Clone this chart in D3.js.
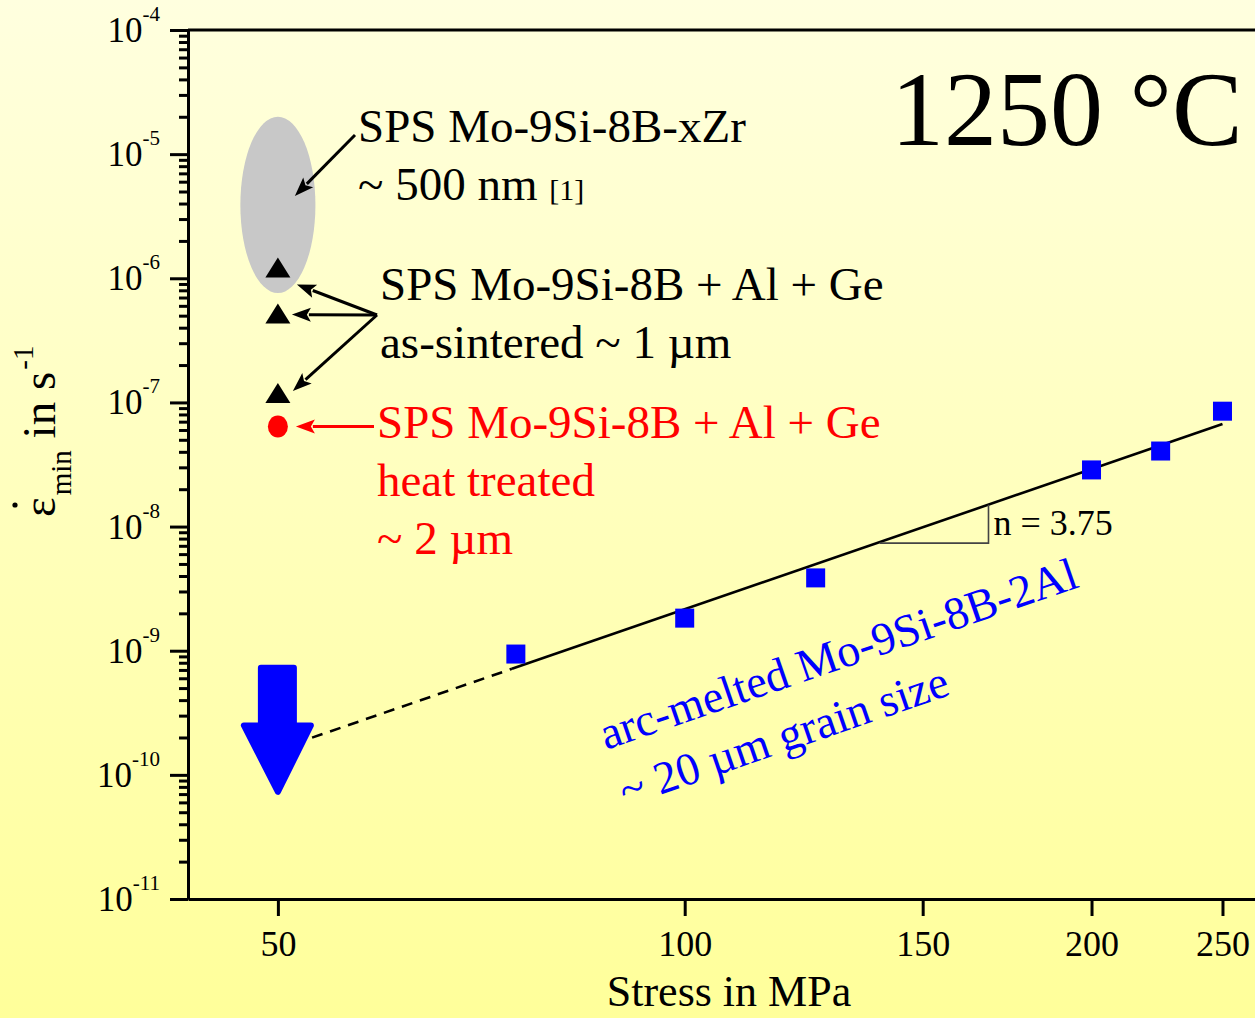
<!DOCTYPE html>
<html>
<head>
<meta charset="utf-8">
<script src="https://cdnjs.cloudflare.com/ajax/libs/d3/7.8.5/d3.min.js"></script>
<style>
  html, body { margin: 0; padding: 0; overflow: hidden; }
  svg { display: block; }
  text { font-family: "Liberation Serif", "Times New Roman", serif; }
</style>
</head>
<body>
<svg id="chart" width="1255" height="1018"></svg>
<script>
// Minimum creep rate vs. applied stress at 1250 °C (log-log)

// axis ticks
const stressTicks = [50, 100, 150, 200, 250];
const rateDecades = [-11, -10, -9, -8, -7, -6, -5, -4];

// arc-melted Mo-9Si-8B-2Al (~20 µm)
const arcMeltedStress = [75, 100, 125, 200, 225, 250];
const arcMeltedRate = [9.4e-10, 1.83e-9, 3.86e-9, 2.86e-8, 4.06e-8, 8.5e-8];

// SPS Mo-9Si-8B + Al + Ge, as-sintered (~1 µm)
const asSinteredStress = [50, 50, 50];
const asSinteredRate = [1.2e-6, 5.1e-7, 1.17e-7];

// SPS Mo-9Si-8B + Al + Ge, heat treated (~2 µm)
const heatTreatedStress = [50];
const heatTreatedRate = [6.4e-8];

// SPS Mo-9Si-8B-xZr (~500 nm) range at 50 MPa
const fineGrainStress = [46.9, 50, 53.3];
const fineGrainRate = [7.6e-7, 2.0e-5];

// power-law fit  rate = A * stress^n
const fitExponent = 3.75;
const fitRefStress = 250;
const fitRefRate = 6.7e-8;
const fitSolidStress = [74.5, 250];
const fitDashedStress = [53, 74.5];
const slopeStress = [139.4, 167.8];

// extrapolated upper bound at 50 MPa
const boundStress = 50;
const boundRate = [7.7e-10, 2.5e-10, 6.9e-11]; // top, neck, tip

const svg = d3.select("#chart");
const W = 1255, H = 1018;

// background gradient
const defs = svg.append("defs");
const grad = defs.append("linearGradient").attr("id", "bg")
  .attr("x1", 0).attr("y1", 0).attr("x2", 0).attr("y2", 1);
grad.append("stop").attr("offset", "0%").attr("stop-color", "#FFFFDF");
grad.append("stop").attr("offset", "100%").attr("stop-color", "#FFFF9A");
svg.append("rect").attr("width", W).attr("height", H).attr("fill", "url(#bg)");

const x = d3.scaleLog().domain([42.9, 280]).range([188, 1289]);
const y = d3.scaleLog().domain([1e-11, 1e-4]).range([899, 30]);

const fit = s => fitRefRate * Math.pow(s / fitRefStress, fitExponent);

// ---- axes ----
const majors = rateDecades.map(e => Math.pow(10, e));
const minors = [];
rateDecades.slice(0, -1).forEach(e => {
  for (let k = 2; k <= 9; k++) minors.push(k * Math.pow(10, e));
});

const yMinor = svg.append("g").attr("transform", "translate(188,0)")
  .call(d3.axisLeft(y).tickValues(minors).tickSize(9).tickSizeOuter(0).tickFormat(""));
const yMajor = svg.append("g").attr("transform", "translate(188,0)")
  .call(d3.axisLeft(y).tickValues(majors).tickSize(18).tickSizeOuter(0).tickFormat(""));
[yMinor, yMajor].forEach(g => {
  g.selectAll("line").attr("stroke", "#000").attr("stroke-width", 3);
  g.select(".domain").attr("stroke", "#000").attr("stroke-width", 3);
});

// decade labels 10^k
const yLab = svg.append("g");
rateDecades.forEach(e => {
  const t = yLab.append("text")
    .attr("x", 160).attr("y", y(Math.pow(10, e)) + 12)
    .attr("text-anchor", "end").attr("font-size", 35).attr("fill", "#000");
  t.append("tspan").text("10");
  t.append("tspan").attr("font-size", 21).attr("dy", -21).text(String(e));
});

const xAxis = svg.append("g").attr("transform", "translate(0,899)")
  .call(d3.axisBottom(x).tickValues(stressTicks).tickSize(17).tickSizeOuter(0).tickFormat(d3.format("d")));
xAxis.selectAll("line").attr("stroke", "#000").attr("stroke-width", 3);
xAxis.select(".domain").attr("stroke", "#000").attr("stroke-width", 3);
xAxis.selectAll("text").attr("font-size", 36).attr("fill", "#000")
  .attr("font-family", "Liberation Serif, serif").attr("y", 57).attr("dy", 0);

// top frame line
svg.append("line").attr("x1", x.range()[0]).attr("x2", x.range()[1])
  .attr("y1", y.range()[1]).attr("y2", y.range()[1])
  .attr("stroke", "#000").attr("stroke-width", 3);

// axis titles
svg.append("text").attr("x", 729).attr("y", 1006).attr("text-anchor", "middle")
  .attr("font-size", 44).attr("fill", "#000").text("Stress in MPa");

const yt = svg.append("g").attr("transform", "translate(55,517) rotate(-90)");
const ytt = yt.append("text").attr("x", 0).attr("y", 0).attr("font-size", 47).attr("fill", "#000");
ytt.append("tspan").text("ε");
ytt.append("tspan").attr("font-size", 29).attr("dy", 16).attr("dx", 2).text("min");
ytt.append("tspan").attr("dy", -16).text(" in s");
ytt.append("tspan").attr("font-size", 29).attr("dy", -22).attr("dx", 2).text("-1");
yt.append("circle").attr("cx", 12).attr("cy", -40).attr("r", 2.6).attr("fill", "#000");

// ---- annotations & data ----
// fine-grain range ellipse
const ecx = x(fineGrainStress[1]);
const ey0 = y(fineGrainRate[1]), ey1 = y(fineGrainRate[0]);
svg.append("ellipse")
  .attr("cx", ecx).attr("cy", (ey0 + ey1) / 2)
  .attr("rx", (x(fineGrainStress[2]) - x(fineGrainStress[0])) / 2)
  .attr("ry", (ey1 - ey0) / 2)
  .attr("fill", "#C8C8C8");

// power-law fit
const line = d3.line().x(d => x(d)).y(d => y(fit(d)));
svg.append("path").attr("d", line(fitDashedStress)).attr("fill", "none")
  .attr("stroke", "#000").attr("stroke-width", 2.6).attr("stroke-dasharray", "11,8");
svg.append("path").attr("d", line(fitSolidStress)).attr("fill", "none")
  .attr("stroke", "#000").attr("stroke-width", 2.6);

// slope triangle
const sx0 = x(slopeStress[0]), sx1 = x(slopeStress[1]);
const sy0 = y(fit(slopeStress[0])), sy1 = y(fit(slopeStress[1]));
svg.append("path")
  .attr("d", `M${sx0},${sy0 + 1}L${sx1},${sy0 + 1}L${sx1},${sy1}`)
  .attr("fill", "none").attr("stroke", "#444").attr("stroke-width", 1.6);
svg.append("text").attr("x", sx1 + 5).attr("y", sy0 - 7).attr("font-size", 36)
  .attr("fill", "#000").text("n = 3.75");

// extrapolated bound arrow
const bx = x(boundStress);
const bTop = y(boundRate[0]), bNeck = y(boundRate[1]), bTip = y(boundRate[2]);
svg.append("path")
  .attr("d", `M${bx - 17},${bTop + 3}L${bx + 16},${bTop + 3}L${bx + 16},${bNeck}L${bx + 33},${bNeck}` +
             `L${bx},${bTip - 3}L${bx - 34},${bNeck}L${bx - 17},${bNeck}Z`)
  .attr("fill", "#0000FF").attr("stroke", "#0000FF").attr("stroke-width", 6)
  .attr("stroke-linejoin", "round");

// arc-melted squares
svg.append("g").selectAll("rect").data(arcMeltedStress).join("rect")
  .attr("x", (d) => x(d) - 9.5).attr("y", (d, i) => y(arcMeltedRate[i]) - 9.5)
  .attr("width", 19).attr("height", 19).attr("fill", "#0000FF");

// as-sintered triangles
const tri = (cx, cy) => `M${cx},${cy - 11}L${cx + 12.5},${cy + 9}L${cx - 12.5},${cy + 9}Z`;
svg.append("g").selectAll("path").data(asSinteredStress).join("path")
  .attr("d", (d, i) => tri(x(d), y(asSinteredRate[i]))).attr("fill", "#000");

// heat-treated dot
svg.append("g").selectAll("ellipse").data(heatTreatedStress).join("ellipse")
  .attr("cx", d => x(d)).attr("cy", (d, i) => y(heatTreatedRate[i]))
  .attr("rx", 10).attr("ry", 11).attr("fill", "#FF0000");

// arrows
function arrow(x1, y1, x2, y2, color) {
  const a = Math.atan2(y2 - y1, x2 - x1);
  const L = 19, Wd = 7;
  const bxp = x2 - L * Math.cos(a), byp = y2 - L * Math.sin(a);
  svg.append("line").attr("x1", x1).attr("y1", y1)
    .attr("x2", bxp + 2 * Math.cos(a)).attr("y2", byp + 2 * Math.sin(a))
    .attr("stroke", color).attr("stroke-width", 3);
  const px = -Math.sin(a) * Wd, py = Math.cos(a) * Wd;
  svg.append("path")
    .attr("d", `M${x2},${y2}L${bxp + px},${byp + py}L${bxp + 4 * Math.cos(a)},${byp + 4 * Math.sin(a)}L${bxp - px},${byp - py}Z`)
    .attr("fill", color);
}
const ecy = (ey0 + ey1) / 2;
arrow(355, 135, ecx + 17, ecy - 9, "#000");
const hub = [377, 315];
arrow(hub[0], hub[1], x(50) + 19, y(asSinteredRate[0]) + 16, "#000");
arrow(hub[0], hub[1], x(50) + 14, y(asSinteredRate[1]), "#000");
arrow(hub[0], hub[1], x(50) + 15, y(asSinteredRate[2]) - 3, "#000");
arrow(374, y(heatTreatedRate[0]), x(50) + 18, y(heatTreatedRate[0]), "#FF0000");

// labels
function label(lines, x0, y0, color, size, gap) {
  lines.forEach((l, i) => {
    const t = svg.append("text").attr("x", x0).attr("y", y0 + i * gap)
      .attr("font-size", size).attr("fill", color);
    l.forEach(part => {
      t.append("tspan").attr("font-size", part[1] || size).text(part[0]);
    });
  });
}
label([[["SPS Mo-9Si-8B-xZr"]], [["~ 500 nm "], ["[1]", 30]]], 358, 142, "#000", 47, 58);
label([[["SPS Mo-9Si-8B + Al + Ge"]], [["as-sintered ~ 1 µm"]]], 380, 300, "#000", 47, 58);
label([[["SPS Mo-9Si-8B + Al + Ge"]], [["heat treated"]], [["~ 2 µm"]]], 377, 438, "#FF0000", 47, 58);

svg.append("text").attr("x", 891).attr("y", 145).attr("font-size", 106)
  .attr("fill", "#000").text("1250 °C");

const bt = svg.append("text").attr("transform", "translate(606,750) rotate(-19)")
  .attr("font-size", 46).attr("fill", "#0000FF");
bt.append("tspan").attr("x", 0).attr("y", 0).text("arc-melted Mo-9Si-8B-2Al");
bt.append("tspan").attr("x", 0).attr("y", 60).text("~ 20 µm grain size");
</script>
</body>
</html>
